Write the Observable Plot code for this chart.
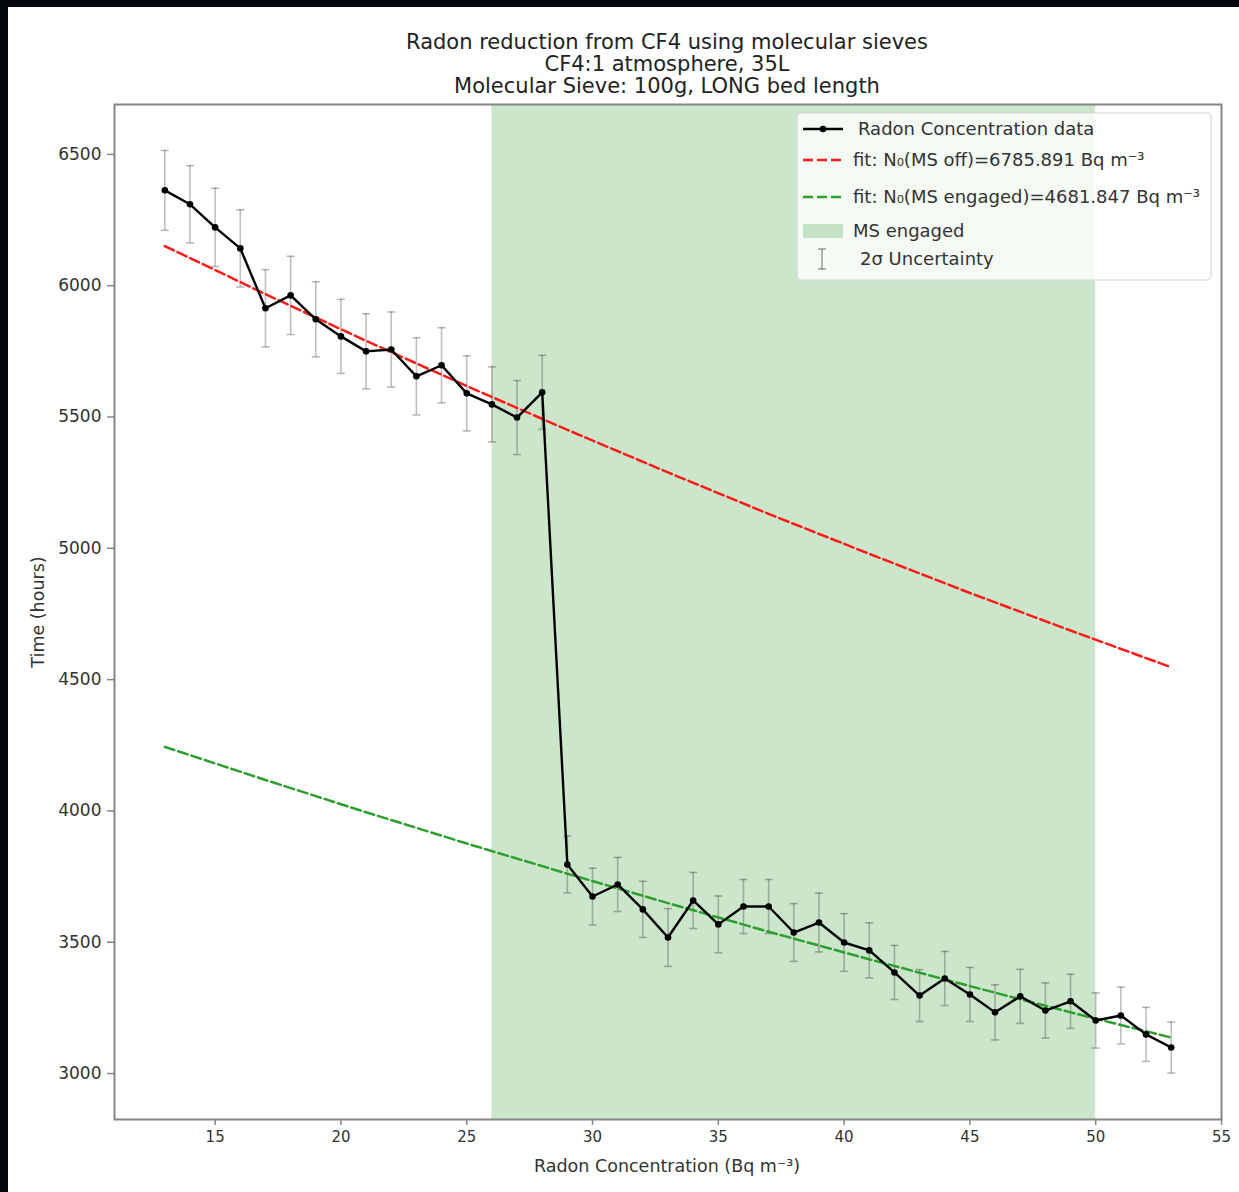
<!DOCTYPE html>
<html>
<head>
<meta charset="utf-8">
<script src="https://cdn.jsdelivr.net/npm/d3@7"></script>
<script src="https://cdn.jsdelivr.net/npm/@observablehq/plot@0.6"></script>
<style>
  html, body { margin: 0; padding: 0; background: #fff; }
  #page { position: relative; width: 1239px; height: 1192px; background: #05090d; overflow: hidden; font-family: "DejaVu Sans", sans-serif; }
  #sheet { position: absolute; left: 8px; top: 7px; width: 1231px; height: 1185px; background: #fff; }
  .title { position: absolute; left: 0; width: 1334px; text-align: center; font-size: 21px; color: #222; line-height: 22px; white-space: nowrap; }
  .lbl { position: absolute; font-size: 17.5px; color: #333; white-space: nowrap; }
  #legend { position: absolute; }
</style>
</head>
<body>
<div id="page">
  <div id="sheet"></div>
</div>
<script>
// ---- data ----
const concentration = [13,14,15,16,17,18,19,20,21,22,23,24,25,26,27,28,29,30,31,32,33,34,35,36,37,38,39,40,41,42,43,44,45,46,47,48,49,50,51,52,53];
const timeValues = [6363,6310,6222,6142,5914,5963,5872,5807,5750,5757,5655,5697,5590,5548,5498,5594,
                    3796,3674,3720,3625,3518,3659,3568,3636,3636,3537,3575,3499,3469,3385,3297,3362,3301,3233,3294,3240,3275,3202,3221,3149,3099];
const twoSigma = [152,147,149,147,147,149,143,141,143,143,147,143,143,143,141,141,
                  108,108,103,107,110,107,108,103,103,110,112,110,105,103,99,103,103,105,103,105,103,105,108,103,97];
const fitX = [13,17,21,25,29,33,37,41,45,49,53];
const fitMsOff = [6151,5968,5790,5618,5451,5289,5131,4979,4830,4687,4547];
const fitMsEngaged = [4244,4118,3995,3876,3761,3649,3540,3435,3333,3233,3137];
const msEngagedStart = [26];
const msEngagedEnd = [50];
const xTicks = [15,20,25,30,35,40,45,50,55];
const yTicks = [3000,3500,4000,4500,5000,5500,6000,6500];
const titleLines = ["Radon reduction from CF4 using molecular sieves", "CF4:1 atmosphere, 35L", "Molecular Sieve: 100g, LONG bed length"];
const xLabel = "Radon Concentration (Bq m\u207B\u00B3)";
const yLabel = "Time (hours)";
const legendLabels = ["Radon Concentration data", "fit: N\u2080(MS off)=6785.891 Bq m\u207B\u00B3", "fit: N\u2080(MS engaged)=4681.847 Bq m\u207B\u00B3", "MS engaged", "2\u03C3 Uncertainty"];

const points = concentration.map((x, i) => ({x, y: timeValues[i], e: twoSigma[i]}));
const fitOff = fitX.map((x, i) => ({x, y: fitMsOff[i]}));
const fitOn = fitX.map((x, i) => ({x, y: fitMsEngaged[i]}));
const band = msEngagedStart.map((s, i) => ({x1: s, x2: msEngagedEnd[i]}));

const capSymbol = { draw(ctx, size) { const r = Math.sqrt(size / Math.PI); ctx.moveTo(-r, 0); ctx.lineTo(r, 0); } };

const frameColor = "#858585";
const chart = Plot.plot({
  width: 1231,
  height: 1185,
  marginLeft: 106,
  marginTop: 97,
  marginRight: 18,
  marginBottom: 73,
  style: { background: "transparent", fontFamily: "DejaVu Sans, sans-serif", overflow: "visible" },
  x: { domain: [11, 55] },
  y: { domain: [2825, 6690] },
  marks: [
    Plot.rect(band, { x1: "x1", x2: "x2", fill: "green", fillOpacity: 0.2 }),
    Plot.ruleX(points, { x: "x", y1: d => d.y - d.e, y2: d => d.y + d.e, stroke: "#000", strokeOpacity: 0.25, strokeWidth: 1.6 }),
    Plot.dot(points, { x: "x", y: d => d.y + d.e, symbol: capSymbol, r: 4, stroke: "#000", strokeOpacity: 0.28, strokeWidth: 1.6 }),
    Plot.dot(points, { x: "x", y: d => d.y - d.e, symbol: capSymbol, r: 4, stroke: "#000", strokeOpacity: 0.28, strokeWidth: 1.6 }),
    Plot.line(fitOff, { x: "x", y: "y", stroke: "#ff1a1a", strokeWidth: 2.5, strokeDasharray: "10,4" }),
    Plot.line(fitOn, { x: "x", y: "y", stroke: "#2e9e2e", strokeWidth: 2.5, strokeDasharray: "10,4" }),
    Plot.line(points, { x: "x", y: "y", stroke: "#000", strokeWidth: 2.4 }),
    Plot.dot(points, { x: "x", y: "y", r: 3.3, fill: "#000" }),
    Plot.axisX({ ticks: xTicks, tickSize: 6, tickPadding: 6, stroke: frameColor, strokeWidth: 1.5, fill: "#333", fontSize: 15, label: null, tickFormat: d3.format("d") }),
    Plot.axisY({ ticks: yTicks, tickSize: 7, tickPadding: 6, stroke: frameColor, strokeWidth: 1.5, fill: "#333", fontSize: 17, label: null, tickFormat: d3.format("d"), style: { letterSpacing: "1px" } }),
    Plot.frame({ stroke: frameColor, strokeWidth: 2 })
  ]
});
chart.style.position = "absolute";
chart.style.left = "8px";
chart.style.top = "7px";
const page = document.getElementById("page");
page.appendChild(chart);

// titles
titleLines.forEach((t, i) => {
  const d = document.createElement("div");
  d.className = "title";
  d.textContent = t;
  d.style.top = (31 + i * 22) + "px";
  page.appendChild(d);
});

// axis labels
const xl = document.createElement("div");
xl.className = "lbl";
xl.textContent = xLabel;
xl.style.left = "0px"; xl.style.width = "1334px"; xl.style.textAlign = "center"; xl.style.top = "1156px";
page.appendChild(xl);
const yl = document.createElement("div");
yl.className = "lbl";
yl.textContent = yLabel;
yl.style.left = "38px"; yl.style.top = "612px";
yl.style.transform = "translate(-50%,-50%) rotate(-90deg)";
page.appendChild(yl);

// legend (its own small svg overlay)
const L = d3.select(page).append("svg").attr("id", "legend")
  .attr("width", 416).attr("height", 170)
  .style("left", "796px").style("top", "112px")
  .style("font-family", "DejaVu Sans, sans-serif");
L.append("rect").attr("x", 1).attr("y", 1).attr("width", 414).attr("height", 167).attr("rx", 4)
  .attr("fill", "#fff").attr("fill-opacity", 0.8).attr("stroke", "#d6d6d6").attr("stroke-width", 1.2);
const rowY = [17, 48, 85, 119, 147];
// row 1: data line
L.append("line").attr("x1", 7).attr("x2", 47).attr("y1", rowY[0]).attr("y2", rowY[0]).attr("stroke", "#000").attr("stroke-width", 2.4);
L.append("circle").attr("cx", 27).attr("cy", rowY[0]).attr("r", 3.3).attr("fill", "#000");
// row 2, 3: fits
L.append("line").attr("x1", 7).attr("x2", 47).attr("y1", rowY[1]).attr("y2", rowY[1]).attr("stroke", "#ff1a1a").attr("stroke-width", 2.5).attr("stroke-dasharray", "10,4");
L.append("line").attr("x1", 7).attr("x2", 47).attr("y1", rowY[2]).attr("y2", rowY[2]).attr("stroke", "#2e9e2e").attr("stroke-width", 2.5).attr("stroke-dasharray", "10,4");
// row 4: patch
L.append("rect").attr("x", 7).attr("y", rowY[3] - 7).attr("width", 40).attr("height", 14).attr("fill", "green").attr("fill-opacity", 0.2);
// row 5: error bar
L.append("line").attr("x1", 26).attr("x2", 26).attr("y1", rowY[4] - 10).attr("y2", rowY[4] + 10).attr("stroke", "#000").attr("stroke-opacity", 0.35).attr("stroke-width", 1.6);
L.append("line").attr("x1", 22).attr("x2", 30).attr("y1", rowY[4] - 10).attr("y2", rowY[4] - 10).attr("stroke", "#000").attr("stroke-opacity", 0.35).attr("stroke-width", 1.6);
L.append("line").attr("x1", 22).attr("x2", 30).attr("y1", rowY[4] + 10).attr("y2", rowY[4] + 10).attr("stroke", "#000").attr("stroke-opacity", 0.35).attr("stroke-width", 1.6);
const textX = [62, 57, 57, 57, 64];
legendLabels.forEach((t, i) => {
  L.append("text").attr("x", textX[i]).attr("y", rowY[i]).attr("dy", "0.35em")
    .attr("font-size", 18).attr("fill", "#333").text(t);
});
</script>
</body>
</html>
